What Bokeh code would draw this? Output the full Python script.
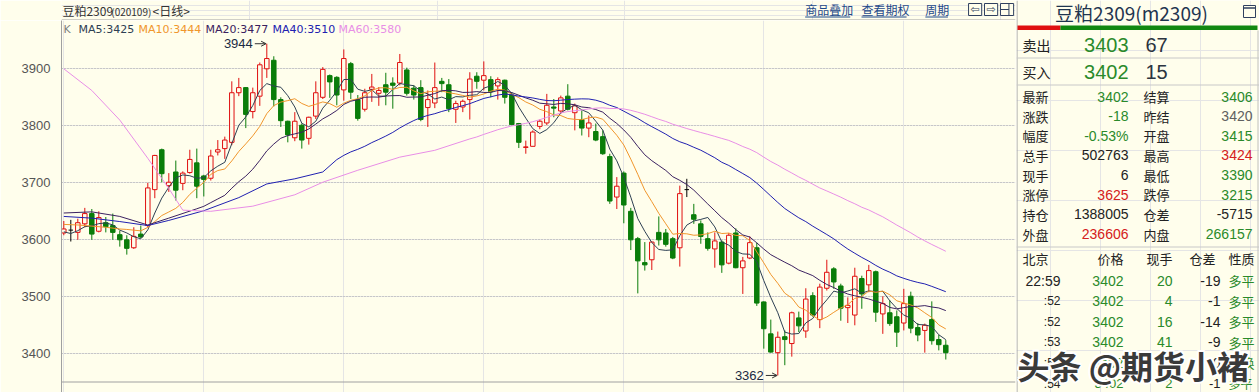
import numpy as np
from bokeh.plotting import figure
from bokeh.layouts import row, column
from bokeh.models import Range1d, LinearAxis, FixedTicker, Span, Arrow, OpenHead, Grid
from bokeh.embed import file_html
from bokeh.resources import INLINE
from bokeh.core.properties import value

# ---------------- data ----------------
opens = [3612, 3617, 3613, 3628, 3646, 3615, 3630, 3625, 3609, 3600, 3586, 3610, 3625, 3688, 3758, 3695, 3719, 3699, 3718, 3735,
         3712, 3708, 3754, 3760, 3771, 3858, 3867, 3825, 3852, 3900, 3915, 3846, 3808, 3779, 3801, 3778, 3817, 3850, 3888, 3885,
         3863, 3909, 3846, 3829, 3864, 3857, 3872, 3875, 3875, 3898, 3866, 3867, 3832, 3840, 3878, 3872, 3829, 3833, 3846, 3887,
         3880, 3881, 3870, 3880, 3854, 3804, 3762, 3764, 3799, 3805, 3833, 3826, 3852, 3823, 3811, 3796, 3790, 3781, 3746, 3675,
         3717, 3650, 3602, 3560, 3565, 3613, 3612, 3602, 3586, 3688, 3644, 3628, 3602, 3584, 3596, 3559, 3612, 3551, 3568, 3586,
         3491, 3435, 3402, 3430, 3418, 3463, 3440, 3502, 3460, 3515, 3549, 3519, 3481, 3468, 3532, 3521, 3544, 3470, 3472, 3465,
         3454, 3501, 3446, 3441, 3460, 3425, 3415]
highs = [3633, 3635, 3637, 3656, 3654, 3650, 3640, 3646, 3616, 3608, 3622, 3625, 3700, 3749, 3760, 3717, 3739, 3720, 3758, 3760,
         3714, 3758, 3775, 3781, 3878, 3884, 3868, 3867, 3911, 3944, 3922, 3850, 3809, 3824, 3804, 3816, 3878, 3903, 3890, 3887,
         3934, 3912, 3854, 3865, 3891, 3868, 3893, 3885, 3926, 3902, 3871, 3880, 3862, 3911, 3884, 3882, 3844, 3846, 3894, 3894,
         3913, 3887, 3885, 3881, 3859, 3805, 3774, 3792, 3811, 3856, 3847, 3853, 3873, 3839, 3827, 3818, 3804, 3792, 3751, 3710,
         3720, 3656, 3605, 3596, 3597, 3641, 3619, 3605, 3695, 3707, 3663, 3634, 3613, 3613, 3599, 3612, 3620, 3570, 3606, 3595,
         3492, 3460, 3439, 3441, 3474, 3474, 3515, 3508, 3523, 3565, 3552, 3523, 3499, 3551, 3537, 3556, 3546, 3501, 3494, 3476,
         3514, 3509, 3454, 3453, 3492, 3433, 3424]
lows = [3608, 3597, 3600, 3622, 3600, 3613, 3613, 3600, 3588, 3574, 3584, 3603, 3622, 3673, 3701, 3684, 3669, 3687, 3716, 3673,
        3676, 3704, 3748, 3742, 3766, 3852, 3796, 3813, 3835, 3884, 3834, 3798, 3771, 3773, 3760, 3767, 3812, 3847, 3849, 3836,
        3844, 3847, 3809, 3825, 3842, 3835, 3836, 3830, 3871, 3853, 3846, 3808, 3798, 3831, 3859, 3824, 3805, 3824, 3811, 3865,
        3862, 3850, 3846, 3839, 3801, 3761, 3751, 3764, 3794, 3801, 3815, 3821, 3827, 3792, 3783, 3780, 3773, 3749, 3663, 3654,
        3629, 3582, 3506, 3546, 3547, 3590, 3588, 3566, 3553, 3675, 3628, 3593, 3581, 3551, 3542, 3557, 3550, 3505, 3566, 3484,
        3409, 3402, 3362, 3380, 3395, 3438, 3428, 3465, 3445, 3511, 3514, 3458, 3454, 3450, 3479, 3508, 3456, 3435, 3449, 3412,
        3441, 3436, 3422, 3402, 3416, 3406, 3390]
closes = [3619, 3617, 3630, 3646, 3610, 3639, 3623, 3613, 3600, 3585, 3606, 3605, 3691, 3748, 3716, 3701, 3687, 3717, 3741, 3694,
          3706, 3747, 3758, 3775, 3858, 3867, 3820, 3858, 3907, 3918, 3846, 3809, 3784, 3808, 3775, 3815, 3858, 3899, 3877, 3854,
          3918, 3859, 3813, 3858, 3868, 3862, 3859, 3871, 3911, 3857, 3854, 3811, 3846, 3867, 3874, 3830, 3839, 3843, 3882, 3878,
          3888, 3860, 3881, 3850, 3802, 3771, 3763, 3789, 3808, 3836, 3831, 3849, 3829, 3835, 3796, 3805, 3775, 3751, 3668, 3694,
          3661, 3600, 3563, 3556, 3596, 3600, 3592, 3568, 3681, 3688, 3636, 3606, 3585, 3598, 3556, 3608, 3551, 3563, 3595, 3489,
          3444, 3403, 3429, 3425, 3472, 3449, 3496, 3468, 3517, 3543, 3526, 3480, 3485, 3536, 3505, 3546, 3473, 3488, 3453, 3438,
          3488, 3445, 3433, 3450, 3423, 3416, 3402]

ma5_head_idx = [0, 1, 2, 3]
ma5_head_val = [3614, 3611, 3616, 3623]
ma10_head_idx = [0, 2, 4, 6, 8]
ma10_head_val = [3627, 3626, 3624, 3622, 3619]
ma20_head_idx = [0, 4, 8, 12, 15]
ma20_head_val = [3647, 3649, 3641, 3626, 3638]
ma40_head_idx = [0, 4, 8, 12, 15, 20, 25, 29, 33, 37]
ma40_head_val = [3641, 3638, 3632, 3625, 3634, 3651, 3674, 3698, 3707, 3719]
ma60_head_idx = [0, 4, 8, 12, 15, 17, 21, 27, 33, 37, 42, 48, 53, 58]
ma60_head_val = [3900, 3862, 3810, 3743, 3690, 3652, 3650, 3659, 3679, 3701, 3722, 3745, 3757, 3777]

ma_periods = [5, 10, 20, 40, 60]
ma_labels = ["MA5:3425", "MA10:3444", "MA20:3477", "MA40:3510", "MA60:3580"]
y_ticks = [3400, 3500, 3600, 3700, 3800, 3900]

title_left = "豆粕2309"
title_code = "(020109)"
title_period = "<日线>"
links = ["商品叠加", "查看期权", "周期"]
panel_title = "豆粕2309(m2309)"

ask_label, ask_price, ask_vol = "卖出", "3403", "67"
bid_label, bid_price, bid_vol = "买入", "3402", "15"
q_left_labels = ["最新", "涨跌", "幅度", "总手", "现手", "涨停", "持仓", "外盘"]
q_left_values = ["3402", "-18", "-0.53%", "502763", "6", "3625", "1388005", "236606"]
q_left_kind = ["g", "g", "g", "d", "d", "r", "d", "r"]
q_right_labels = ["结算", "昨结", "开盘", "最高", "最低", "跌停", "仓差", "内盘"]
q_right_values = ["3406", "3420", "3415", "3424", "3390", "3215", "-5715", "266157"]
q_right_kind = ["g", "n", "g", "r", "g", "g", "d", "g"]

trade_header = ["北京", "价格", "现手", "仓差", "性质"]
trade_time = ["22:59", ":52", ":52", ":53", ":53", ":54"]
trade_price = ["3402", "3402", "3402", "3402", "3402", "3402"]
trade_vol = ["20", "4", "16", "41", "61", "2"]
trade_oi = ["-19", "-1", "-14", "-9", "0", "-1"]
trade_nature = ["多平", "多平", "多平", "多平", "多换", "多平"]
watermark = "头条 @期货小褚"

# ---------------- style / layout ----------------
BG = "#fffeec"
RED = "#e01010"
GREEN = "#0a7d0a"
MA_COLORS = ["#2e4053", "#f0962d", "#3b2160", "#2020b0", "#e88ee6"]
KIND_COLOR = {"g": "#2a8a2a", "r": "#d42020", "d": "#222222", "n": "#606060"}
CJK = "Noto Sans CJK SC"
NUM = "Liberation Sans"

LEFT_W = 1016
TOTAL_W = 1259
H = 392
HEAD_H = 20
X0_PX, STEP_PX = 63.3, 7.0
Y3900_PX, PX_PER_PT = 68.3, 0.57


def px2x(px):
    return (px - X0_PX) / STEP_PX


def px2y(py):
    return 3900 - (py - Y3900_PX) / PX_PER_PT


def txt(fig, x, y, s, color="#222222", size=13, font=CJK, align="left", style="normal"):
    fig.text(x=[x], y=[y], text=[s], text_color=color, text_font_size=f"{size}px",
             text_font=value(font), text_align=align, text_baseline="middle", text_font_style=style)


def plain_fig(w, h, x0, x1, y0, y1):
    f = figure(width=w, height=h, x_range=Range1d(x0, x1), y_range=Range1d(y0, y1),
               output_backend="svg", toolbar_location=None, x_axis_location=None, y_axis_location=None,
               min_border=0, outline_line_color=None, background_fill_color=BG, border_fill_color=BG)
    return f


# ---------------- header (left) ----------------
head = plain_fig(LEFT_W, HEAD_H, 0, LEFT_W, HEAD_H, 0)
txt(head, 1, 10, title_left, "#333333", 12)
txt(head, 53, 10.5, title_code, "#333333", 10)
txt(head, 97, 10, title_period, "#333333", 12)
for s, x in zip(links, [792, 852, 920]):
    txt(head, x, 9, s, "#1f4a8a", 12)
    head.segment(x0=[x], y0=[16.5], x1=[x + 12 * len(s)], y1=[16.5], line_color="#1f4a8a", line_width=1)
for x in [966, 983, 1000]:
    head.quad(left=[x], right=[x + 14], top=[3], bottom=[15], fill_color=BG, line_color="#304060", line_width=1)
txt(head, 973, 9, "⇦", "#304060", 11, "DejaVu Sans", "center")
txt(head, 990, 9, "⇨", "#304060", 11, "DejaVu Sans", "center")
head.segment(x0=[1009], y0=[3], x1=[1009], y1=[15], line_color="#304060")
head.segment(x0=[1000], y0=[9], x1=[1009], y1=[9], line_color="#304060")
head.segment(x0=[0], y0=[19.5], x1=[LEFT_W], y1=[19.5], line_color="#a0a0a0", line_width=1)

# ---------------- main candlestick chart ----------------
main = figure(width=LEFT_W, height=H - HEAD_H,
              x_range=Range1d(px2x(61), px2x(1015)),
              y_range=Range1d(px2y(H), px2y(HEAD_H)),
              output_backend="svg", toolbar_location=None, x_axis_location=None, y_axis_location=None,
              min_border_left=61, min_border_right=1, min_border_top=0, min_border_bottom=0,
              outline_line_color=None, background_fill_color=BG, border_fill_color=BG)

yaxis = LinearAxis(ticker=FixedTicker(ticks=y_ticks), axis_line_color="#a0a0a0",
                   major_tick_line_color=None, minor_tick_line_color=None,
                   major_label_text_font=NUM, major_label_text_font_size="13px",
                   major_label_text_color="#555555", major_label_standoff=5)
main.add_layout(yaxis, "left")
main.add_layout(Grid(dimension=1, ticker=FixedTicker(ticks=y_ticks), grid_line_color="#a8a8a8",
                     grid_line_dash="1 2", grid_line_width=1))
main.add_layout(Span(location=px2y(381.5), dimension="width", line_color="#a0a0a0", line_width=1))

idx = list(range(len(closes)))
colors = [RED if c > o else (GREEN if c < o else "#000000") for o, c in zip(opens, closes)]
main.segment(x0=idx, y0=highs, x1=idx, y1=lows, line_color=colors, line_width=1)

up = [i for i in idx if closes[i] > opens[i]]
dn = [i for i in idx if closes[i] < opens[i]]
eq = [i for i in idx if closes[i] == opens[i]]
BW = 0.64
main.vbar(x=up, width=BW, top=[closes[i] for i in up], bottom=[opens[i] for i in up],
          fill_color=BG, line_color=RED, line_width=1)
main.vbar(x=dn, width=BW, top=[opens[i] for i in dn], bottom=[closes[i] for i in dn],
          fill_color=GREEN, line_color=GREEN, line_width=1)
main.segment(x0=[i - BW / 2 for i in eq], x1=[i + BW / 2 for i in eq],
             y0=[closes[i] for i in eq], y1=[closes[i] for i in eq], line_color="#000000", line_width=1)

heads = [(ma5_head_idx, ma5_head_val), (ma10_head_idx, ma10_head_val), (ma20_head_idx, ma20_head_val),
         (ma40_head_idx, ma40_head_val), (ma60_head_idx, ma60_head_val)]
cl = np.array(closes, dtype=float)
for n, (hi, hv), col in zip(ma_periods, heads, MA_COLORS):
    vals = np.convolve(cl, np.ones(n) / n, mode="valid")
    xs = list(hi) + list(range(n - 1, len(cl)))
    ys = list(hv) + list(vals)
    main.line(xs, ys, line_color=col, line_width=1)

# legend line
txt(main, px2x(63), px2y(29), "K", "#808080", 11, "DejaVu Sans")
for s, col, xp in zip(ma_labels, MA_COLORS, [78, 138, 205, 272, 338]):
    txt(main, px2x(xp), px2y(29), s, col, 11, "DejaVu Sans")

# extreme annotations
imax = int(np.argmax(highs))
imin = int(np.argmin(lows))
for i, v in [(imax, highs[imax]), (imin, lows[imin])]:
    txt(main, i - 14 / STEP_PX, v, str(v), "#1a2a44", 13, NUM, "right")
    main.add_layout(Arrow(end=OpenHead(size=5, line_color="#333333", line_width=1),
                          x_start=i - 12 / STEP_PX, y_start=v, x_end=i - 0.1, y_end=v,
                          line_color="#333333", line_width=1))

# ---------------- side quote panel ----------------
side = plain_fig(TOTAL_W - LEFT_W, H, LEFT_W, TOTAL_W, H, 0)
side.segment(x0=[LEFT_W + 0.5], y0=[0], x1=[LEFT_W + 0.5], y1=[H], line_color="#a0a0a0")
side.segment(x0=[1257.5], y0=[30], x1=[1257.5], y1=[H], line_color="#c0c0c0")
txt(side, 1131, 12, panel_title, "#1f3550", 19, CJK, "center")
side.quad(left=[1243], right=[1255], top=[5], bottom=[17], fill_color=BG, line_color="#304060")
side.segment(x0=[1243], y0=[7.5], x1=[1255], y1=[7.5], line_color="#304060", line_width=1.5)
side.quad(left=[1017], right=[1060], top=[25], bottom=[29.5], fill_color=RED, line_color=None)
side.quad(left=[1060], right=[1257], top=[25], bottom=[29.5], fill_color="#118811", line_color=None)
for yy in [57.5, 84.5, 246.5]:
    side.segment(x0=[LEFT_W], y0=[yy], x1=[TOTAL_W], y1=[yy], line_color="#c8c8c8")

txt(side, 1022, 44, ask_label, "#222222", 14)
txt(side, 1128, 44, ask_price, KIND_COLOR["g"], 20, NUM, "right")
txt(side, 1145, 44, ask_vol, "#2c3440", 20, NUM)
txt(side, 1022, 71, bid_label, "#222222", 14)
txt(side, 1128, 71, bid_price, KIND_COLOR["g"], 20, NUM, "right")
txt(side, 1145, 71, bid_vol, "#2c3440", 20, NUM)

for k in range(len(q_left_labels)):
    yy = 96 + 19.65 * k
    txt(side, 1022, yy, q_left_labels[k], "#222222", 13)
    txt(side, 1128, yy, q_left_values[k], KIND_COLOR[q_left_kind[k]], 14, NUM, "right")
    txt(side, 1143, yy, q_right_labels[k], "#222222", 13)
    txt(side, 1252, yy, q_right_values[k], KIND_COLOR[q_right_kind[k]], 14, NUM, "right")

hx = [(1022, "left"), (1123, "right"), (1172, "right"), (1215, "right"), (1228, "left")]
for s, (x, a) in zip(trade_header, hx):
    txt(side, x, 258, s, "#222222", 13, CJK, a)
for k in range(len(trade_time)):
    yy = 280 + 20.6 * k
    fs = 13 if k < 5 else 12
    txt(side, 1060, yy, trade_time[k], "#222222", 14 if k == 0 else 12, NUM, "right")
    txt(side, 1123, yy, trade_price[k], KIND_COLOR["g"], fs + 1, NUM, "right")
    txt(side, 1172, yy, trade_vol[k], KIND_COLOR["g"], fs + 1, NUM, "right")
    txt(side, 1220, yy, trade_oi[k], "#222222", fs + 1, NUM, "right")
    txt(side, 1228, yy, trade_nature[k], KIND_COLOR["g"], fs, CJK)

for dx, dy in [(-2, 0), (2, 0), (0, -2), (0, 2), (-1.5, -1.5), (1.5, 1.5), (-1.5, 1.5), (1.5, -1.5)]:
    txt(side, 1017 + dx, 364 + dy, watermark, "#ffffff", 32, CJK, "left", "bold")
txt(side, 1017, 364, watermark, "#3a3a3a", 32, CJK, "left", "bold")

layout = row(column(head, main), side)
open("out.html", "w").write(file_html(layout, INLINE))
